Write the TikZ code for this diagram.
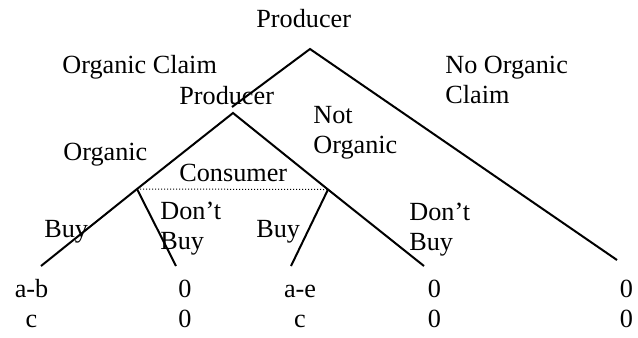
\documentclass[tikz,border=0pt]{standalone}
\usepackage{fontspec}
\setmainfont{Liberation Serif}
\begin{document}
\begin{tikzpicture}[x=0.5bp,y=-0.5bp,
  branch/.style={line width=1bp},
  infoset/.style={line width=0.5bp,dash pattern=on 0.5bp off 1bp},
  lbl/.style={anchor=base west,inner sep=0pt,font=\fontsize{13.15}{15}\selectfont},
  pay/.style={anchor=base,inner sep=0pt,font=\fontsize{13.15}{15}\selectfont}]
\useasboundingbox (0,0) rectangle (638,337);
% tree vertices
\coordinate (root) at (310,49);
\coordinate (rootend) at (232,107);
\coordinate (p2) at (233,113);
\coordinate (c1) at (137,189);
\coordinate (c2) at (328,189.5);
\coordinate (e1) at (41,266);
\coordinate (e2) at (176,266);
\coordinate (e3) at (291,266);
\coordinate (e4) at (424,266);
\coordinate (e5) at (617,260);
% branches
\draw[branch] (rootend) -- (root) -- (e5);
\draw[branch] (e1) -- (c1) -- (p2) -- (c2) -- (e4);
\draw[branch] (c1) -- (e2);
\draw[branch] (c2) -- (e3);
\draw[infoset] (c1) -- (c2);
% labels
\node[lbl] (prod1) at (256,27) {Producer};
\node[lbl] (claim) at (62,73) {Organic Claim};
\node[lbl] (prod2) at (179,104) {Producer};
\node[lbl] (noorgA) at (445,73) {No Organic};
\node[lbl] (noorgB) at (445,103) {Claim};
\node[lbl] (notA) at (313,123) {Not};
\node[lbl] (notB) at (313,153) {Organic};
\node[lbl] (org) at (63,160) {Organic};
\node[lbl] (cons) at (179,181) {Consumer};
\node[lbl] (buy1) at (44,237) {Buy};
\node[lbl] (dontA) at (160,219) {Don’t};
\node[lbl] (dontB) at (160,249) {Buy};
\node[lbl] (buy3) at (256,237) {Buy};
\node[lbl] (dontC) at (409,220) {Don’t};
\node[lbl] (dontD) at (409,250) {Buy};
% payoffs
\node[pay] (pa1) at (31.5,297) {a-b};
\node[pay] (pb1) at (31.5,327) {c};
\node[pay] (pa2) at (185,297) {0};
\node[pay] (pb2) at (185,327) {0};
\node[pay] (pa3) at (300,297) {a-e};
\node[pay] (pb3) at (300,327) {c};
\node[pay] (pa4) at (434.5,297) {0};
\node[pay] (pb4) at (434.5,327) {0};
\node[pay] (pa5) at (626.5,297) {0};
\node[pay] (pb5) at (626.5,327) {0};
\end{tikzpicture}
\end{document}
